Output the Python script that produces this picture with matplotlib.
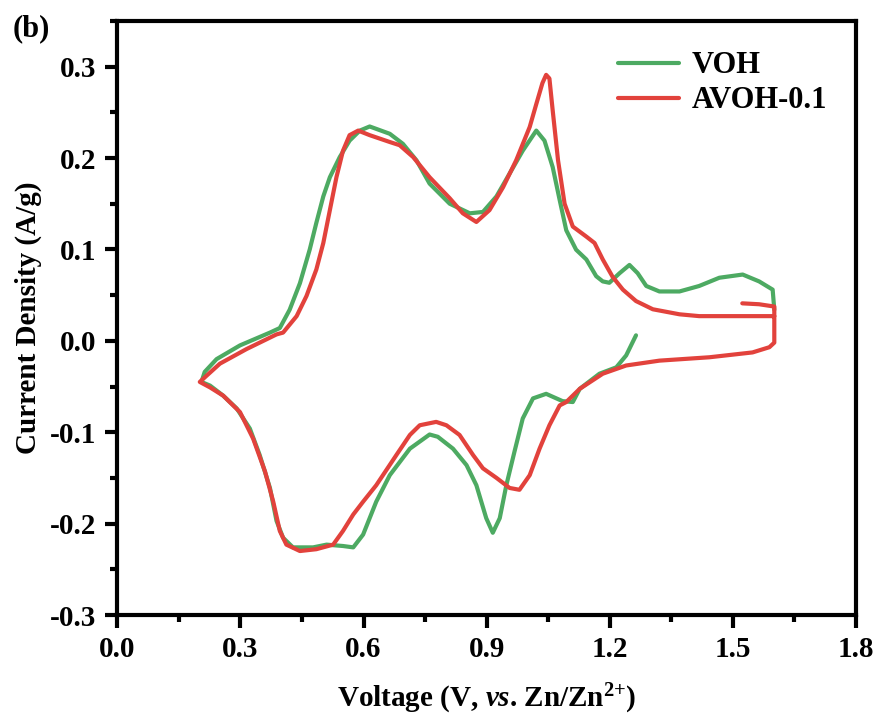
import matplotlib.pyplot as plt
from matplotlib.ticker import MultipleLocator

plt.rcParams['font.family'] = 'Liberation Serif'
plt.rcParams['font.weight'] = 'bold'
plt.rcParams['mathtext.fontset'] = 'custom'
plt.rcParams['mathtext.rm'] = 'Liberation Serif:bold'
plt.rcParams['mathtext.it'] = 'Liberation Serif:italic:bold'
plt.rcParams['mathtext.bf'] = 'Liberation Serif:bold'

# VOH: starts at ~1.26 V on the cathodic sweep, down to 0.2 V, back up to 1.6 V
voh_v = [1.264, 1.240, 1.216, 1.175, 1.127, 1.110, 1.085, 1.045, 1.013, 0.988,
         0.968, 0.948, 0.932, 0.915, 0.899, 0.875, 0.851, 0.818, 0.781, 0.761,
         0.713, 0.664, 0.631, 0.599, 0.575, 0.550, 0.510, 0.477, 0.428, 0.404,
         0.388, 0.372, 0.347, 0.323, 0.291, 0.258, 0.226, 0.205, 0.213, 0.242,
         0.299, 0.372, 0.396, 0.420, 0.445, 0.469, 0.485, 0.502, 0.518, 0.542,
         0.566, 0.591, 0.615, 0.664, 0.696, 0.729, 0.761, 0.810, 0.859, 0.891,
         0.924, 0.956, 0.988, 1.021, 1.041, 1.061, 1.078, 1.094, 1.118, 1.143,
         1.167, 1.183, 1.199, 1.224, 1.248, 1.268, 1.289, 1.321, 1.370, 1.418,
         1.467, 1.524, 1.564, 1.597, 1.601]
voh_i = [0.006, -0.016, -0.029, -0.036, -0.0525, -0.067, -0.066, -0.058, -0.063, -0.085,
         -0.121, -0.158, -0.194, -0.210, -0.194, -0.158, -0.136, -0.118, -0.105, -0.1025,
         -0.118, -0.147, -0.176, -0.212, -0.226, -0.2245, -0.223, -0.226, -0.226, -0.2155,
         -0.197, -0.161, -0.125, -0.096, -0.074, -0.060, -0.049, -0.045, -0.034, -0.020,
         -0.005, 0.009, 0.014, 0.034, 0.063, 0.100, 0.129, 0.158, 0.179, 0.201,
         0.219, 0.230, 0.2345, 0.2265, 0.2155, 0.1975, 0.172, 0.150, 0.1395, 0.141,
         0.158, 0.183, 0.208, 0.230, 0.219, 0.190, 0.154, 0.121, 0.0997, 0.089,
         0.0707, 0.065, 0.0635, 0.074, 0.083, 0.074, 0.060, 0.054, 0.054, 0.060,
         0.069, 0.0725, 0.065, 0.056, 0.034]

# AVOH-0.1: starts at ~1.52 V, up to 1.6 V, cathodic to 0.2 V, anodic back to 1.6 V
avoh_v = [1.523, 1.564, 1.601, 1.601, 1.589, 1.548, 1.443, 1.321, 1.240, 1.183,
          1.127, 1.094, 1.078, 1.053, 1.029, 1.005, 0.980, 0.956, 0.924, 0.891,
          0.867, 0.834, 0.802, 0.777, 0.737, 0.713, 0.680, 0.631, 0.599, 0.575,
          0.550, 0.526, 0.485, 0.445, 0.412, 0.396, 0.380, 0.360, 0.331, 0.299,
          0.258, 0.226, 0.201, 0.218, 0.250, 0.315, 0.388, 0.404, 0.437, 0.461,
          0.485, 0.502, 0.518, 0.534, 0.550, 0.566, 0.587, 0.615, 0.664, 0.688,
          0.721, 0.761, 0.810, 0.842, 0.875, 0.907, 0.940, 0.972, 1.005, 1.021,
          1.036, 1.045, 1.053, 1.061, 1.074, 1.090, 1.110, 1.143, 1.163, 1.183, 1.207,
          1.232, 1.264, 1.305, 1.370, 1.418, 1.601]
avoh_i = [0.041, 0.040, 0.0375, -0.002, -0.007, -0.0127, -0.018, -0.0217, -0.027, -0.036,
          -0.0525, -0.067, -0.0707, -0.0924, -0.118, -0.147, -0.163, -0.161, -0.150, -0.1395,
          -0.125, -0.103, -0.0924, -0.0887, -0.0924, -0.103, -0.125, -0.158, -0.176, -0.190,
          -0.208, -0.223, -0.228, -0.230, -0.223, -0.208, -0.176, -0.143, -0.107, -0.078,
          -0.060, -0.051, -0.045, -0.038, -0.025, -0.009, 0.007, 0.009, 0.027, 0.049,
          0.078, 0.107, 0.143, 0.179, 0.208, 0.225, 0.230, 0.225, 0.2175, 0.214,
          0.201, 0.179, 0.156, 0.1395, 0.130, 0.143, 0.168, 0.1975, 0.234, 0.259,
          0.282, 0.291, 0.287, 0.252, 0.1975, 0.150, 0.125, 0.114, 0.107, 0.089, 0.070,
          0.056, 0.0435, 0.0345, 0.029, 0.027, 0.027]

fig = plt.figure(figsize=(8.78, 7.21), dpi=100)
ax = fig.add_axes([0.1336, 0.147, 0.8413, 0.824])

ax.plot(voh_v, voh_i, color='#4DAA62', lw=3, label='VOH',
        solid_joinstyle='round', solid_capstyle='round')
ax.plot(avoh_v, avoh_i, color='#E2423C', lw=3, label='AVOH-0.1',
        solid_joinstyle='round', solid_capstyle='round')

ax.set_xlim(0, 1.8)
ax.set_ylim(-0.3, 0.35)
ax.xaxis.set_minor_locator(MultipleLocator(0.15))
ax.yaxis.set_minor_locator(MultipleLocator(0.05))
ax.set_xticks([0, 0.3, 0.6, 0.9, 1.2, 1.5, 1.8])
ax.set_xticklabels(['0.0', '0.3', '0.6', '0.9', '1.2', '1.5', '1.8'])
ax.set_yticks([-0.3, -0.2, -0.1, 0.0, 0.1, 0.2, 0.3])
ax.set_yticklabels(['-0.3', '-0.2', '-0.1', '0.0', '0.1', '0.2', '0.3'])

for s in ax.spines.values():
    s.set_linewidth(3)
ax.tick_params(which='major', direction='out', length=9, width=3, labelsize=21, pad=6)
ax.tick_params(which='minor', direction='out', length=5, width=3)

ax.set_xlabel(r'Voltage (V, $\mathit{vs}$. Zn/Zn$^{\mathrm{2{+}}}$)', fontsize=21,
              fontweight='bold', labelpad=14)
ax.set_ylabel('Current Density (A/g)', fontsize=21, fontweight='bold', labelpad=6)

ax.legend(loc='upper right', frameon=False, fontsize=22, handlelength=2.0,
          handletextpad=0.4, borderaxespad=0.3, bbox_to_anchor=(0.99, 0.985),
          labelspacing=0.2)

fig.text(0.014, 0.95, '(b)', fontsize=22, fontweight='bold')

fig.savefig('out.png', dpi=100)
